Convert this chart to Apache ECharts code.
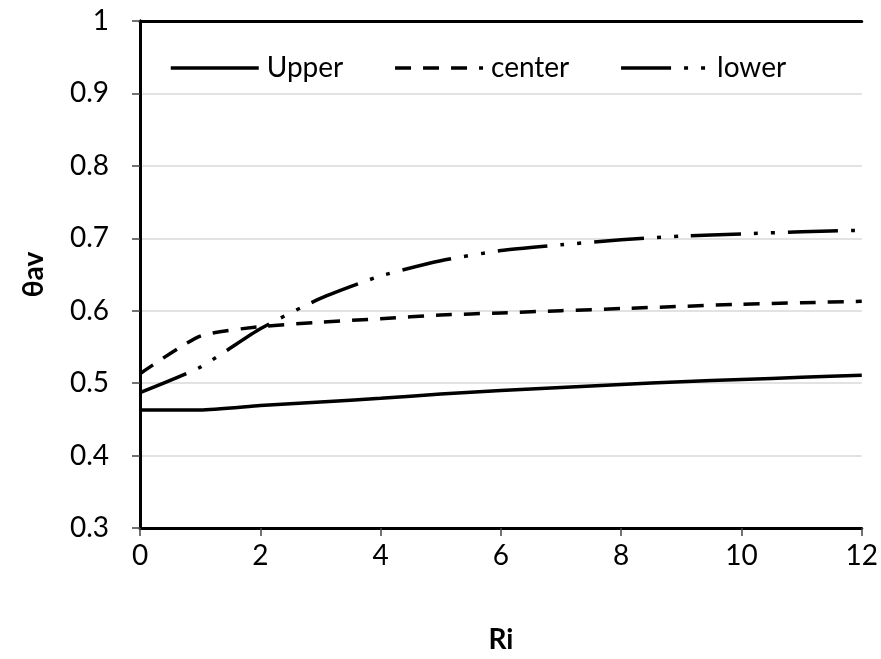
<!DOCTYPE html>
<html>
<head>
<meta charset="utf-8">
<style>
  html, body { margin: 0; padding: 0; background: #fff; }
  #chart { width: 881px; height: 659px; }
</style>
<script src="https://cdn.jsdelivr.net/npm/echarts@6/dist/echarts.min.js"></script>
</head>
<body>
<div id="chart"></div>
<script>
// Richardson number samples
const ri = [0, 1, 2, 3, 4, 5, 6, 7, 8, 9, 10, 11, 12];
// Average dimensionless temperature at each position
const upper  = [0.463, 0.463, 0.469, 0.474, 0.479, 0.485, 0.490, 0.494, 0.498, 0.502, 0.505, 0.508, 0.511];
const center = [0.513, 0.565, 0.578, 0.584, 0.589, 0.594, 0.597, 0.600, 0.603, 0.606, 0.609, 0.611, 0.613];
const lower  = [0.487, 0.522, 0.575, 0.617, 0.648, 0.669, 0.683, 0.691, 0.698, 0.703, 0.706, 0.709, 0.711];
const seriesNames = ['Upper', 'center', 'lower'];
const xTitle = 'Ri';
const yTitle = 'θav';

const FONT = 'Lato';
const pairs = arr => ri.map((x, i) => [x, arr[i]]);

// Plain frame axes (top and right) to close the plot box
const frameAxis = {
  axisLine: { show: true, lineStyle: { color: '#000', width: 3 } },
  axisTick: { show: false }, axisLabel: { show: false }, splitLine: { show: false }
};

const lineSeries = (name, data, type) => ({
  name, type: 'line', symbol: 'none', data: pairs(data),
  smooth: 0.2,
  itemStyle: { color: '#000' },
  lineStyle: { color: '#000', width: 3.5, type, cap: 'butt' }
});

const chart = echarts.init(document.getElementById('chart'));
chart.setOption({
  animation: false,
  backgroundColor: '#fff',
  textStyle: { fontFamily: FONT, color: '#000' },
  grid: { left: 140, right: 19, top: 21, bottom: 131 },
  legend: {
    left: 164, top: 49,
    itemWidth: 88, itemHeight: 6, itemGap: 50,
    data: seriesNames,
    lineStyle: { width: 3.5 },
    itemStyle: { color: 'rgba(0,0,0,0)', borderWidth: 0 },
    textStyle: { fontFamily: FONT, fontSize: 28, color: '#000', padding: [0, 0, 0, 3] }
  },
  xAxis: [{
    type: 'value', min: 0, max: 12, interval: 2,
    name: xTitle, nameLocation: 'middle', nameGap: 98,
    nameTextStyle: { fontFamily: FONT, fontSize: 28, fontWeight: 'bold', color: '#000' },
    axisLine: { lineStyle: { color: '#000', width: 3 } },
    axisTick: { show: true, length: 8, lineStyle: { color: '#444', width: 1.5 } },
    axisLabel: { fontFamily: FONT, fontSize: 28, color: '#000', margin: 14 },
    splitLine: { show: false }
  }, Object.assign({ type: 'value', min: 0, max: 12, position: 'top' }, frameAxis)],
  yAxis: [{
    type: 'value', min: 0.3, max: 1, interval: 0.1,
    name: yTitle, nameLocation: 'middle', nameRotate: 90, nameGap: 92,
    nameTextStyle: { fontFamily: FONT, fontSize: 28, fontWeight: 'bold', color: '#000' },
    axisLine: { lineStyle: { color: '#000', width: 3 } },
    axisTick: { show: true, length: 8, lineStyle: { color: '#444', width: 1.5 } },
    axisLabel: {
      fontFamily: FONT, fontSize: 28, color: '#000', margin: 31,
      formatter: v => (Math.round(v * 10) / 10).toString()
    },
    splitLine: { show: true, lineStyle: { color: '#d9d9d9', width: 1.5 } }
  }, Object.assign({ type: 'value', min: 0.3, max: 1, position: 'right' }, frameAxis)],
  series: [
    lineSeries(seriesNames[0], upper, 'solid'),
    lineSeries(seriesNames[1], center, [16, 12]),
    lineSeries(seriesNames[2], lower, [50, 13, 4, 13, 4, 13])
  ]
});
</script>
</body>
</html>
